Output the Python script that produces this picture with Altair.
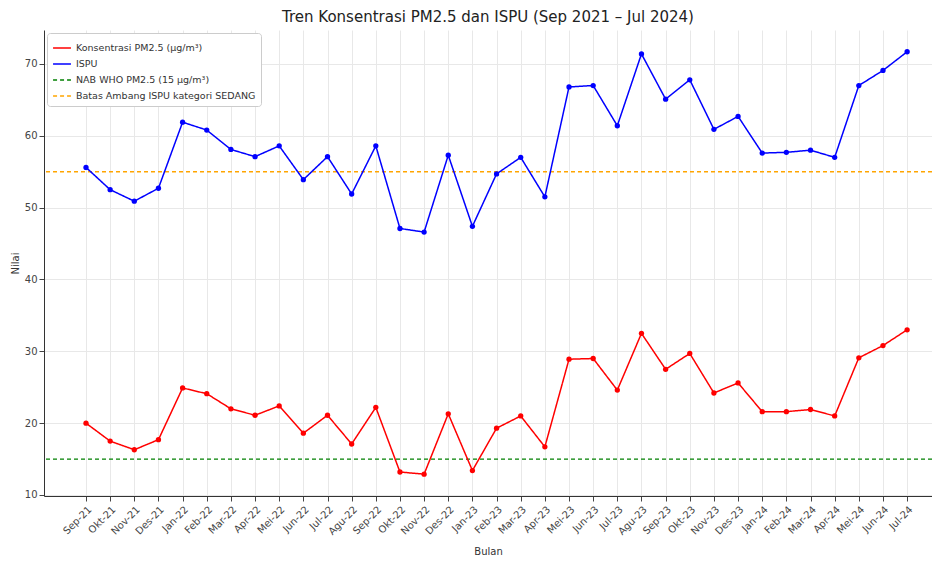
import altair as alt
import pandas as pd

bulan = ["Sep-21", "Okt-21", "Nov-21", "Des-21", "Jan-22", "Feb-22", "Mar-22", "Apr-22",
         "Mei-22", "Jun-22", "Jul-22", "Agu-22", "Sep-22", "Okt-22", "Nov-22", "Des-22",
         "Jan-23", "Feb-23", "Mar-23", "Apr-23", "Mei-23", "Jun-23", "Jul-23", "Agu-23",
         "Sep-23", "Okt-23", "Nov-23", "Des-23", "Jan-24", "Feb-24", "Mar-24", "Apr-24",
         "Mei-24", "Jun-24", "Jul-24"]

pm25 = [20.0, 17.5, 16.3, 17.7, 24.9, 24.1, 22.0, 21.1, 22.4, 18.6, 21.1, 17.1,
        22.2, 13.2, 12.9, 21.3, 13.4, 19.3, 21.0, 16.7, 28.9, 29.0, 24.6, 32.5,
        27.5, 29.7, 24.2, 25.6, 21.6, 21.6, 21.9, 21.0, 29.1, 30.8, 33.0]

ispu = [55.6, 52.5, 50.9, 52.7, 61.9, 60.8, 58.1, 57.1, 58.6, 53.9, 57.1, 51.9,
        58.6, 47.1, 46.6, 57.3, 47.4, 54.7, 57.0, 51.5, 66.8, 67.0, 61.4, 71.4,
        65.1, 67.8, 60.9, 62.7, 57.6, 57.7, 58.0, 57.0, 67.0, 69.1, 71.7]

seri = ["Konsentrasi PM2.5 (µg/m³)", "ISPU", "NAB WHO PM2.5 (15 µg/m³)",
        "Batas Ambang ISPU kategori SEDANG"]
warna = ["#ff0000", "#0000ff", "#008000", "#ffa500"]
ambang = [15, 55]

rows = []
for i, b in enumerate(bulan):
    rows.append({"idx": i, "bulan": b, "nilai": pm25[i], "seri": seri[0]})
for i, b in enumerate(bulan):
    rows.append({"idx": i, "bulan": b, "nilai": ispu[i], "seri": seri[1]})
df = pd.DataFrame(rows)
df_rule = pd.DataFrame({"nilai": ambang, "seri": seri[2:]})

label_expr = "[" + ",".join("'%s'" % b for b in bulan) + "][datum.value]"

color = alt.Color("seri:N", scale=alt.Scale(domain=seri, range=warna),
                  legend=alt.Legend(title=None, orient="top-left", offset=3,
                                    symbolType="stroke", symbolSize=320,
                                    symbolStrokeWidth=1.5, labelFontSize=9.5,
                                    labelColor="#333", rowPadding=1, padding=5,
                                    fillColor="white", strokeColor="#cccccc",
                                    cornerRadius=3, labelLimit=300))
dash = alt.StrokeDash("seri:N", scale=alt.Scale(domain=seri,
                      range=[[1, 0], [1, 0], [4, 3], [4, 3]]), legend=None)

x = alt.X("idx:Q", title="Bulan",
          scale=alt.Scale(domain=[-1.739, 35.03], nice=False, zero=False),
          axis=alt.Axis(values=list(range(len(bulan))), labelExpr=label_expr,
                        labelAngle=-45, labelAlign="right", labelBaseline="top",
                        labelOverlap=False, labelFontSize=10, labelColor="#444",
                        tickColor="#444", domainColor="#333", gridColor="#e8e8e8",
                        titleFontSize=10, titleColor="#333", titleFontWeight="normal",
                        labelPadding=3, titlePadding=10))
y = alt.Y("nilai:Q", title="Nilai",
          scale=alt.Scale(domain=[9.86, 74.73], nice=False, zero=False),
          axis=alt.Axis(values=[10, 20, 30, 40, 50, 60, 70], labelFontSize=10,
                        labelColor="#444", tickColor="#444", domainColor="#333",
                        gridColor="#e8e8e8", titleFontSize=10, titleColor="#333",
                        titleFontWeight="normal", titlePadding=4))

lines = alt.Chart(df).mark_line(strokeWidth=1.5, point=alt.OverlayMarkDef(size=28, filled=True)).encode(
    x=x, y=y, color=color, strokeDash=dash, detail="seri:N")
rules = alt.Chart(df_rule).mark_rule(strokeWidth=1.3).encode(
    y=alt.Y("nilai:Q"), color=alt.Color("seri:N"), strokeDash=alt.StrokeDash("seri:N"))

chart = alt.layer(rules, lines).properties(
    width=888, height=466,
    title=alt.Title("Tren Konsentrasi PM2.5 dan ISPU (Sep 2021 – Jul 2024)",
                    fontSize=15, fontWeight="normal", color="#222", offset=5),
    autosize=alt.AutoSizeParams(type="none"),
    padding={"left": 36, "top": 22, "right": 0, "bottom": 60},
).configure(font="DejaVu Sans").configure_view(stroke=None)

chart.save("out.html", embed_options={"renderer": "svg", "actions": False})
